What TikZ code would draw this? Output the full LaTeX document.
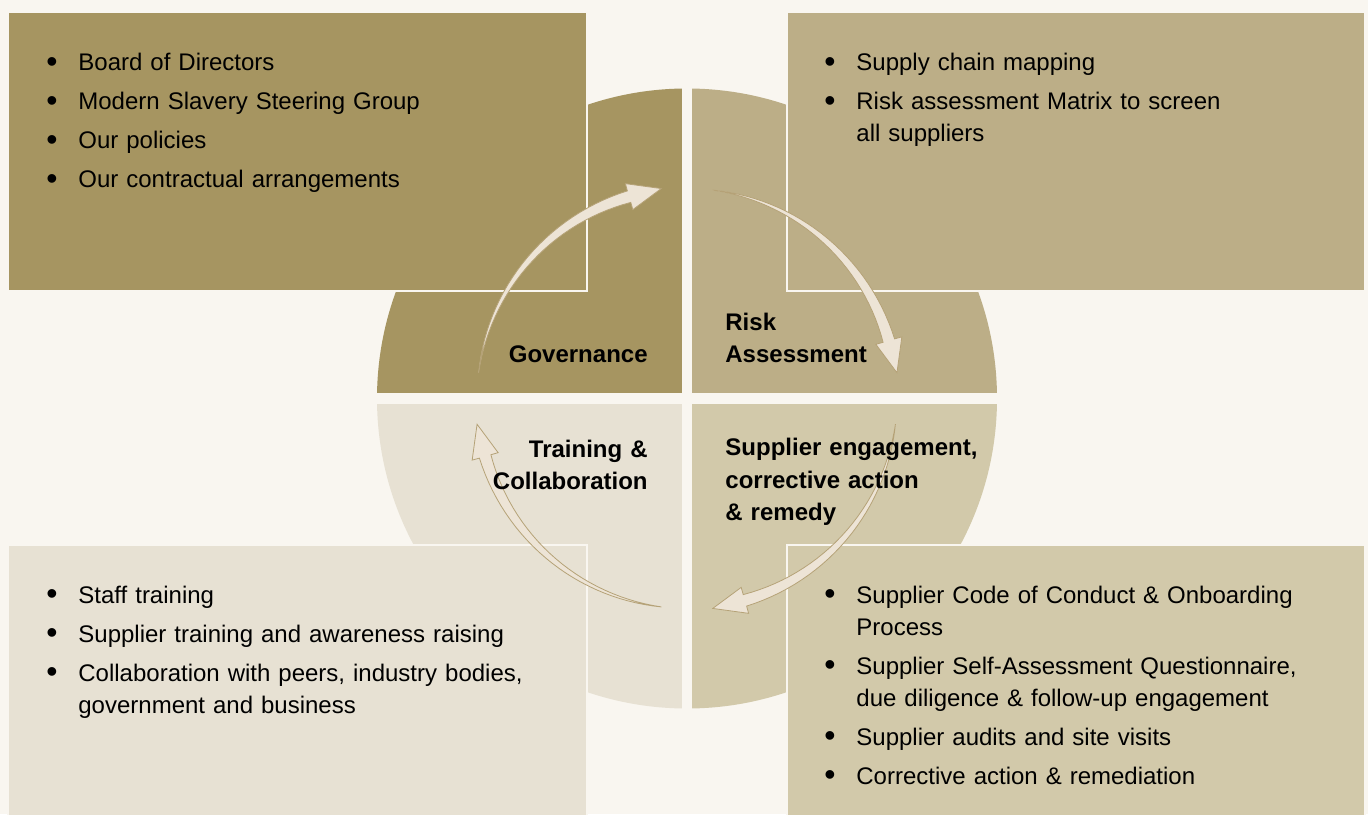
\documentclass[tikz,border=0pt]{standalone}
\usepackage{fontspec}
\setmainfont{Liberation Sans}

\definecolor{pagebg}{HTML}{F9F6F0}
\definecolor{govcol}{HTML}{A69561}
\definecolor{riskcol}{HTML}{BCAE87}
\definecolor{suppcol}{HTML}{D2C9AA}
\definecolor{traincol}{HTML}{E7E1D3}
\definecolor{arrowfill}{HTML}{EDE4D6}
\definecolor{arrowline}{HTML}{B5A277}

\newcommand{\bitem}[1]{\noindent\hangindent=17pt\hangafter=1\makebox[17pt][l]{\hspace{1pt}\raisebox{-0.9pt}{\fontsize{16}{16}\selectfont\textbullet}}#1\par}

\tikzset{
  panel/.style={draw=pagebg, line width=1.25pt},
  cyclearrow/.style={fill=arrowfill, draw=arrowline, line width=0.4pt},
  steplabel/.style={inner sep=0pt, text width=140pt, font=\bfseries\fontsize{12}{16}\selectfont},
  listbox/.style={anchor=base west, inner sep=0pt, text width=320pt, font=\fontsize{12}{16}\selectfont}
}

\begin{document}
\begin{tikzpicture}[x=0.5pt,y=0.5pt]
\useasboundingbox (0,0) rectangle (1368,814);
\fill[pagebg] (0,0) rectangle (1368,814);

\coordinate (c) at (687,415.5);
\begin{scope}
  \clip (c) circle (310);
  \fill[govcol] (c) rectangle ++(-320,320);
  \fill[riskcol] (c) rectangle ++(320,320);
  \fill[suppcol] (c) rectangle ++(320,-320);
  \fill[traincol] (c) rectangle ++(-320,-320);
\end{scope}
\draw[pagebg, line width=5.25pt] ([yshift=-160pt]c) -- ([yshift=160pt]c);
\draw[pagebg, line width=5.25pt] ([xshift=-160pt]c) -- ([xshift=160pt]c);

\filldraw[govcol, panel] (8,523) rectangle (587,802);
\filldraw[riskcol, panel] (787,523) rectangle (1365,802);
\filldraw[traincol, panel] (8,-5) rectangle (587,269);
\filldraw[suppcol, panel] (787,-5) rectangle (1365,269);

\begin{scope}[shift={(c)}]
\foreach \a in {173,83,-7,-97}
  \filldraw[cyclearrow] plot[domain=0:1,samples=30] ({\a-67*\x}:{210+6*\x})
    -- ({\a-67}:223.5) -- ({\a-76}:211.5) -- ({\a-67}:196.5)
    -- plot[domain=1:0,samples=30] ({\a-67*\x}:{210-6*\x}) -- cycle;
\end{scope}

\node[steplabel, align=right, anchor=base east] (gov) at (648,451) {Governance};
\node[steplabel, align=left, anchor=base west] (risk) at (725,483) {Risk\\Assessment};
\node[steplabel, align=right, anchor=base east] (train) at (648,357) {Training \&\\Collaboration};
\node[steplabel, align=left, anchor=base west] (supp) at (725,358) {Supplier engagement,\\corrective action\\\& remedy};

\node[listbox] (govlist) at (44,743) {\setlength{\parskip}{3.5pt}%
  \bitem{Board of Directors}
  \bitem{Modern Slavery Steering Group}
  \bitem{Our policies}
  \bitem{Our contractual arrangements}};
\node[listbox] (risklist) at (822,743) {\setlength{\parskip}{3.5pt}%
  \bitem{Supply chain mapping}
  \bitem{Risk assessment Matrix to screen\newline all suppliers}};
\node[listbox] (trainlist) at (44,211) {\setlength{\parskip}{3.5pt}%
  \bitem{Staff training}
  \bitem{Supplier training and awareness raising}
  \bitem{Collaboration with peers, industry bodies,\newline government and business}};
\node[listbox] (supplist) at (822,211) {\setlength{\parskip}{3.5pt}%
  \bitem{Supplier Code of Conduct \& Onboarding\newline Process}
  \bitem{Supplier Self-Assessment Questionnaire,\newline due diligence \& follow-up engagement}
  \bitem{Supplier audits and site visits}
  \bitem{Corrective action \& remediation}};
\end{tikzpicture}
\end{document}
